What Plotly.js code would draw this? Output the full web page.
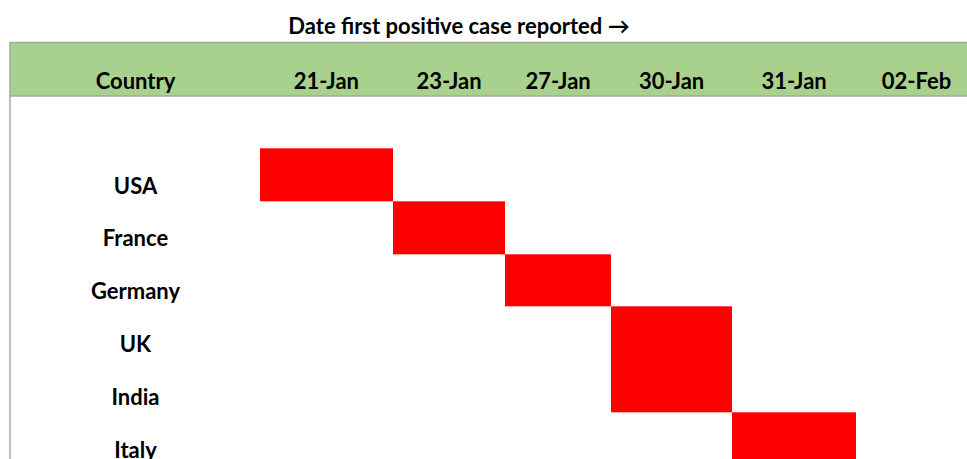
<!DOCTYPE html>
<html>
<head>
<meta charset="utf-8">
<script src="https://cdn.plot.ly/plotly-3.0.1.min.js"></script>
<style>html,body{margin:0;padding:0;background:#fff;}#chart{width:967px;height:459px;}</style>
</head>
<body>
<div id="chart"></div>
<script>
// ---- data ----
const titleText = 'Date first positive case reported →';
const headerLabel = 'Country';
const countries = ['USA', 'France', 'Germany', 'UK', 'India', 'Italy'];
const dates = ['21-Jan', '23-Jan', '27-Jan', '30-Jan', '31-Jan', '02-Feb'];
const firstCase = ['21-Jan', '23-Jan', '27-Jan', '30-Jan', '30-Jan', '31-Jan'];

// ---- layout geometry (sheet grid, in pixels) ----
const countryCol = [11, 260];
const dateColEdges = [260, 392.7, 505.3, 611, 732.3, 856, 977];
const headerTop = 42.5, headerBottom = 96;
const rowTop = 148.3, rowH = 52.8;
const textLift = 13;

const rowEdges = [];
for (let i = 0; i <= countries.length; i++) rowEdges.push(rowTop + i * rowH);

const z = countries.map((c, i) => dates.map(d => (d === firstCase[i] ? 1 : null)));

const colCenters = dateColEdges.slice(0, -1).map((e, i) => (e + dateColEdges[i + 1]) / 2);
const countryX = (countryCol[0] + countryCol[1]) / 2;

const font = { family: 'Lato, "Open Sans", sans-serif', size: 22, color: '#000' };

const traces = [
  {
    type: 'heatmap',
    x: dateColEdges,
    y: rowEdges,
    z: z,
    colorscale: [[0, '#ff0000'], [1, '#ff0000']],
    showscale: false,
    hoverinfo: 'skip',
    zsmooth: false
  },
  {
    type: 'scatter',
    mode: 'text',
    x: countries.map(() => countryX),
    y: countries.map((c, i) => rowEdges[i + 1] - textLift),
    text: countries.map(c => '<b>' + c + '</b>'),
    textfont: font,
    textposition: 'middle center',
    hoverinfo: 'skip',
    showlegend: false,
    cliponaxis: false
  },
  {
    type: 'scatter',
    mode: 'text',
    x: [countryX].concat(colCenters),
    y: [headerLabel].concat(dates).map(() => headerBottom - textLift),
    text: [headerLabel].concat(dates).map(t => '<b>' + t + '</b>'),
    textfont: font,
    textposition: 'middle center',
    hoverinfo: 'skip',
    showlegend: false,
    cliponaxis: false
  }
];

const layout = {
  width: 967,
  height: 459,
  margin: { l: 0, r: 0, t: 0, b: 0 },
  paper_bgcolor: '#ffffff',
  plot_bgcolor: '#ffffff',
  showlegend: false,
  title: {
    text: '<b>' + titleText + '</b>',
    font: { family: 'Lato, "Open Sans", sans-serif', size: 22, color: '#000' },
    x: 459 / 967,
    xanchor: 'center',
    y: 1 - 26 / 459,
    yanchor: 'middle',
    xref: 'paper',
    yref: 'paper'
  },
  xaxis: { range: [0, 967], visible: false, fixedrange: true },
  yaxis: { range: [459, 0], visible: false, fixedrange: true },
  shapes: [
    {
      type: 'rect', xref: 'x', yref: 'y', layer: 'below',
      x0: 10, x1: 1000, y0: headerTop, y1: headerBottom,
      fillcolor: '#a9d18e', line: { color: '#a6a6a6', width: 1.5 }
    },
    {
      type: 'line', xref: 'x', yref: 'y', layer: 'below',
      x0: 10, x1: 10, y0: headerBottom, y1: 470,
      line: { color: '#a6a6a6', width: 1.5 }
    }
  ]
};

Plotly.newPlot('chart', traces, layout, { displayModeBar: false, staticPlot: true });
</script>
</body>
</html>
